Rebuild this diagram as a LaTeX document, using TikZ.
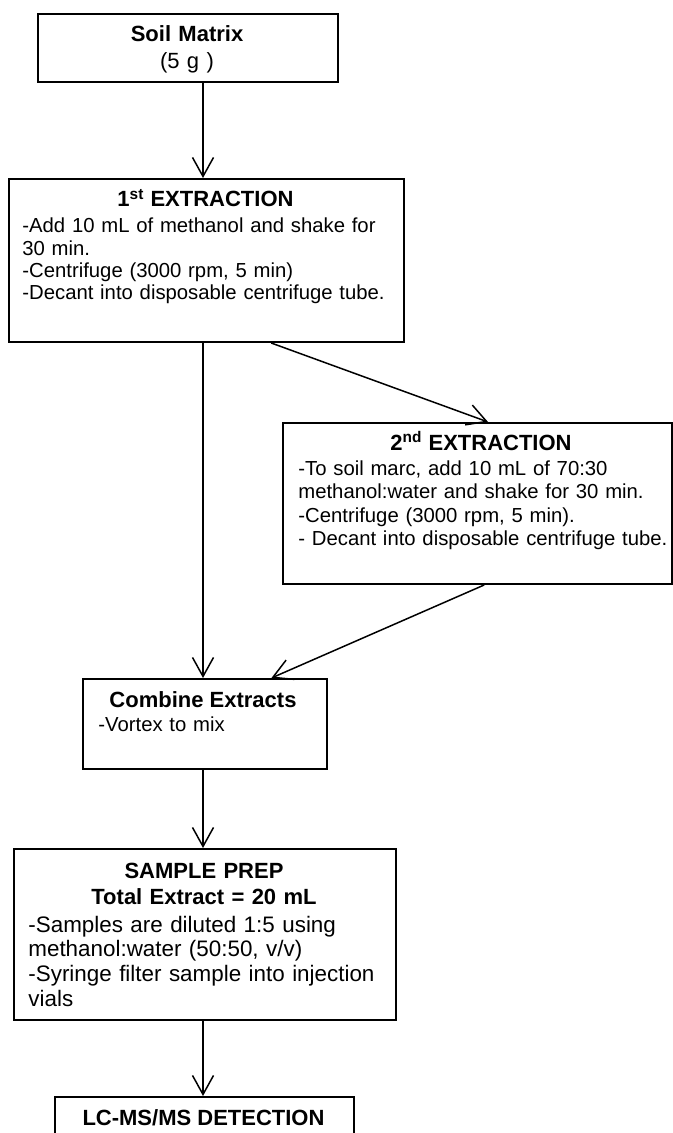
\documentclass[tikz,border=0pt]{standalone}
\usepackage{fontspec}
\setmainfont{Liberation Sans}
\usetikzlibrary{arrows.meta, calc}
\newcommand{\hdfont}{\fontsize{11}{12}\selectfont\bfseries}
\newcommand{\txtfont}{\fontsize{10.15}{11.15}\selectfont}
\tikzset{
  stepbox/.style={draw, line width=1pt, inner sep=0pt, anchor=north west},
  steptitle/.style={font=\hdfont, inner sep=0pt, anchor=base},
  steptext/.style={font=\txtfont, inner sep=0pt, anchor=base west, align=left, text width=#1},
  steptext/.default=190pt,
  flow/.style={-{Straight Barb[length=9.5pt, width=10.5pt]}, line width=0.75pt},
}

\begin{document}
\begin{tikzpicture}[x=0.5pt, y=-0.5pt]
    \useasboundingbox (0,0) rectangle (673,1133);

    % boxes
    \node [stepbox, minimum width=150pt, minimum height=34pt] (soil) at (37,13) {};
    \node [stepbox, minimum width=197.5pt, minimum height=81.5pt] (ext1) at (8,178) {};
    \node [stepbox, minimum width=194.5pt, minimum height=80.5pt] (ext2) at (282,422) {};
    \node [stepbox, minimum width=122pt, minimum height=45pt] (comb) at (82,678) {};
    \node [stepbox, minimum width=191pt, minimum height=85.5pt] (prep) at (13,848) {};
    \node [stepbox, minimum width=149.5pt, minimum height=40pt] (lcms) at (54,1096) {};

    % texts
    \node [steptitle, text width=140pt, align=center,
           font=\fontsize{11}{13.5}\selectfont\bfseries] (soil_t) at (187,42)
        {Soil Matrix\\ \mdseries (5 g )};

    \node [steptitle] (ext1_t) at (205.5,207) {1\textsuperscript{st} EXTRACTION};
    \node [steptext] (ext1_x) at (22,233)
        {-Add 10 mL of methanol and shake for\\
         30 min.\\
         -Centrifuge (3000 rpm, 5 min)\\
         -Decant into disposable centrifuge tube.};

    \node [steptitle] (ext2_t) at (481,450) {2\textsuperscript{nd} EXTRACTION};
    \node [steptext, font=\fontsize{10.15}{11.75}\selectfont] (ext2_x) at (298,475)
        {-To soil marc, add 10 mL of 70:30\\
         methanol:water and shake for 30 min.\\
         -Centrifuge (3000 rpm, 5 min).\\
         - Decant into disposable centrifuge tube.};

    \node [steptitle] (comb_t) at (203,707) {Combine Extracts};
    \node [steptext=110pt] (comb_x) at (98,731) {-Vortex to mix};

    \node [steptitle, text width=180pt, align=center,
           font=\fontsize{11}{13}\selectfont\bfseries] (prep_t) at (204,878)
        {SAMPLE PREP\\ Total Extract = 20 mL};
    \node [steptext=182pt, font=\fontsize{11.2}{12.4}\selectfont] (prep_x) at (28,932)
        {-Samples are diluted 1:5 using\\
         methanol:water (50:50, v/v)\\
         -Syringe filter sample into injection\\
         vials};

    \node [steptitle] (lcms_t) at (203.5,1125) {LC-MS/MS DETECTION};

    % connectors
    \coordinate (spine) at (203,0);
    \foreach \a/\b in {soil/ext1, ext1/comb, comb/prep, prep/lcms}
        \draw [flow] (\a.south -| spine) -- (\b.north -| spine);

    \draw [flow] ($(ext1.south west)!0.663!(ext1.south east)$)
        -- ($(ext2.north west)!0.527!(ext2.north east)$);
    \draw [flow] ($(ext2.south west)!0.517!(ext2.south east)$)
        -- ($(comb.north west)!0.77!(comb.north east)$);
\end{tikzpicture}
\end{document}
